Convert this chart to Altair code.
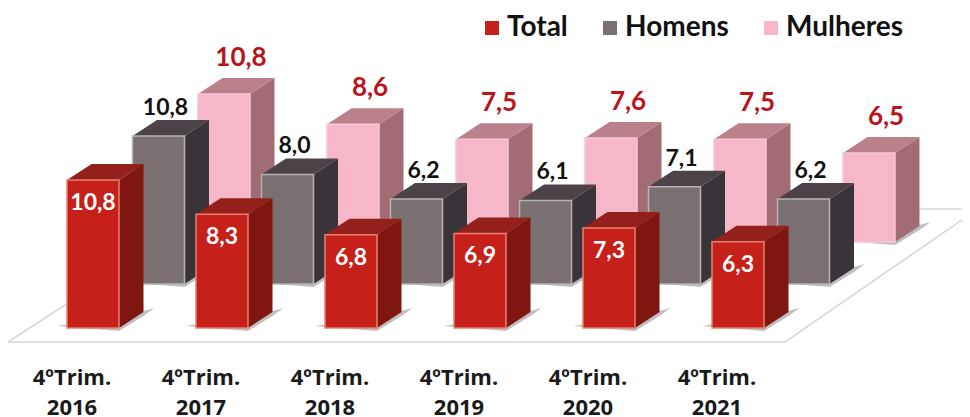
import altair as alt
import pandas as pd

years = ["2016", "2017", "2018", "2019", "2020", "2021"]
series = ["Total", "Homens", "Mulheres"]
total = [10.8, 8.3, 6.8, 6.9, 7.3, 6.3]
homens = [10.8, 8.0, 6.2, 6.1, 7.1, 6.2]
mulheres = [10.8, 8.6, 7.5, 7.6, 7.5, 6.5]
values = {"Total": total, "Homens": homens, "Mulheres": mulheres}

front = {"Total": "#c6201a", "Homens": "#7a7072", "Mulheres": "#f6b7c9"}
edge = {"Total": "#e8806f", "Homens": "#b7b2b2", "Mulheres": "#f9c6d4"}
side = {"Total": "#7f1710", "Homens": "#38343a", "Mulheres": "#a26c74"}
top = {"Total": "#93201a", "Homens": "#4c4348", "Mulheres": "#ba808c"}
label_color = {"Total": "#ffffff", "Homens": "#111111", "Mulheres": "#b9131c"}
label_size = {"Total": 23, "Homens": 23, "Mulheres": 26}

PX_X, PX_Y = 129.0, 13.7
W, H = 954, 409
ORIG_X, ORIG_Y = 67 - 8, 328 - 8
x_scale = alt.Scale(domain=[-ORIG_X / PX_X, (W - ORIG_X) / PX_X], range=[0, W], nice=False, zero=False)
y_scale = alt.Scale(domain=[(ORIG_Y - H) / PX_Y, ORIG_Y / PX_Y], range=[H, 0], nice=False, zero=False)

BW = 52 / PX_X
DX = 24.5 / PX_X
DY = 16 / PX_Y
SER_X = 65.5 / PX_X
SER_Y = {"Total": 0.0, "Homens": 44 / PX_Y, "Mulheres": 86 / PX_Y}
LBL = {
    "Total": (26 / PX_X, -23 / PX_Y),
    "Homens": (33 / PX_X, 28 / PX_Y),
    "Mulheres": (43 / PX_X, 36 / PX_Y),
}

rows, side_rows, top_rows, shadow_rows = [], [], [], []
for s_i, s in enumerate(series):
    b = SER_Y[s]
    for i, val in enumerate(values[s]):
        x0 = i + s_i * SER_X
        v = b + val
        key = f"{s}{i}"
        rows.append(dict(serie=s, x=x0, xe=x0 + BW, y=v, ye=b,
                         lx=x0 + LBL[s][0], ly=v + LBL[s][1],
                         txt=f"{val:.1f}".replace(".", ",")))
        for k, (xx, a, c) in enumerate([(x0 + BW, v, b), (x0 + BW + DX, v + DY, b + DY)]):
            side_rows.append(dict(serie=s, bar=key, k=k, x=xx, y=a, ye=c))
        for k, (xx, a, c) in enumerate([
            (x0, v, v), (x0 + DX, v + DY, v), (x0 + BW, v + DY, v), (x0 + BW + DX, v + DY, v + DY)
        ]):
            top_rows.append(dict(serie=s, bar=key, k=k, x=xx, y=a, ye=c))
        for k, (xx, a, c) in enumerate([
            (x0 - 10 / PX_X, b + 2 / PX_Y, b + 2 / PX_Y),
            (x0 + BW, b + 12 / PX_Y, b - 3 / PX_Y),
            (x0 + BW + DX, b + DY + 1 / PX_Y, b + DY - 4 / PX_Y),
            (x0 + BW + DX + 11 / PX_X, b + DY + 4 / PX_Y, b + DY + 4 / PX_Y),
        ]):
            shadow_rows.append(dict(serie=s, bar=key, k=k, x=xx, y=a, ye=c))

df = pd.DataFrame(rows)
df_side = pd.DataFrame(side_rows)
df_top = pd.DataFrame(top_rows)
df_shadow = pd.DataFrame(shadow_rows)

X = alt.X("x:Q", scale=x_scale, axis=None)
Y = alt.Y("y:Q", scale=y_scale, axis=None, stack=None)


def px(xp):
    return (xp - 67) / PX_X


def py(yp):
    return (328 - yp) / PX_Y


floor_lines = pd.DataFrame([
    dict(seg="a", k=0, x=px(8), y=py(342)),
    dict(seg="a", k=1, x=px(785), y=py(342)),
    dict(seg="a", k=2, x=px(985), y=py(204)),
    dict(seg="b", k=0, x=px(8), y=py(342)),
    dict(seg="b", k=1, x=px(213), y=py(209)),
    dict(seg="b", k=2, x=px(975), y=py(209)),
])
layers = [
    alt.Chart(floor_lines).mark_line(color="#d6d6d6", strokeWidth=1.6).encode(
        x=X, y=Y, detail="seg:N", order="k:Q"
    )
]


def area(d, s, color, **kw):
    return alt.Chart(d[d.serie == s]).mark_area(color=color, orient="vertical", **kw).encode(
        x=X, y=Y, y2="ye:Q", detail="bar:N"
    )


for s in reversed(series):
    layers.append(area(df_shadow, s, "#a9a9ad", opacity=0.75))
    layers.append(area(df_side, s, side[s]))
    layers.append(area(df_top, s, top[s]))
    layers.append(
        alt.Chart(df[df.serie == s]).mark_rect(stroke=edge[s], strokeWidth=1.5).encode(
            x=X, x2="xe:Q", y=Y, y2="ye:Q",
            color=alt.Color(
                "serie:N",
                scale=alt.Scale(domain=series, range=[front[k] for k in series]),
                legend=alt.Legend(
                    title=None, orient="none", legendX=470, legendY=6, direction="horizontal",
                    columns=3, symbolType="square", symbolSize=196, symbolStrokeWidth=0,
                    labelFont="Lato", labelFontWeight="bold", labelFontSize=28, labelColor="#111111",
                    labelOffset=1, columnPadding=28, labelLimit=200,
                ),
            ),
        )
    )
for s in reversed(series):
    layers.append(
        alt.Chart(df[df.serie == s]).mark_text(
            font="Lato", fontWeight="bold", fontSize=label_size[s], color=label_color[s]
        ).encode(x=alt.X("lx:Q", scale=x_scale, axis=None),
                 y=alt.Y("ly:Q", scale=y_scale, axis=None), text="txt:N")
    )

ticks = pd.DataFrame([dict(x=i + 0.5 * BW - 21 / PX_X, y=py(378), t=f"4ºTrim.\n{yr}") for i, yr in enumerate(years)])
layers.append(
    alt.Chart(ticks).mark_text(
        font="Open Sans", fontWeight="bold", fontSize=22, color="#1a1a1a", lineBreak="\n", lineHeight=30
    ).encode(x=X, y=alt.Y("y:Q", scale=y_scale, axis=None), text="t:N")
)

chart = alt.layer(*layers).properties(
    width=W, height=H, padding=0,
    autosize=alt.AutoSizeParams(type="none"),
    background="#ffffff",
).configure_view(stroke=None)

chart.save("out.html", embed_options={"renderer": "svg", "actions": False})
